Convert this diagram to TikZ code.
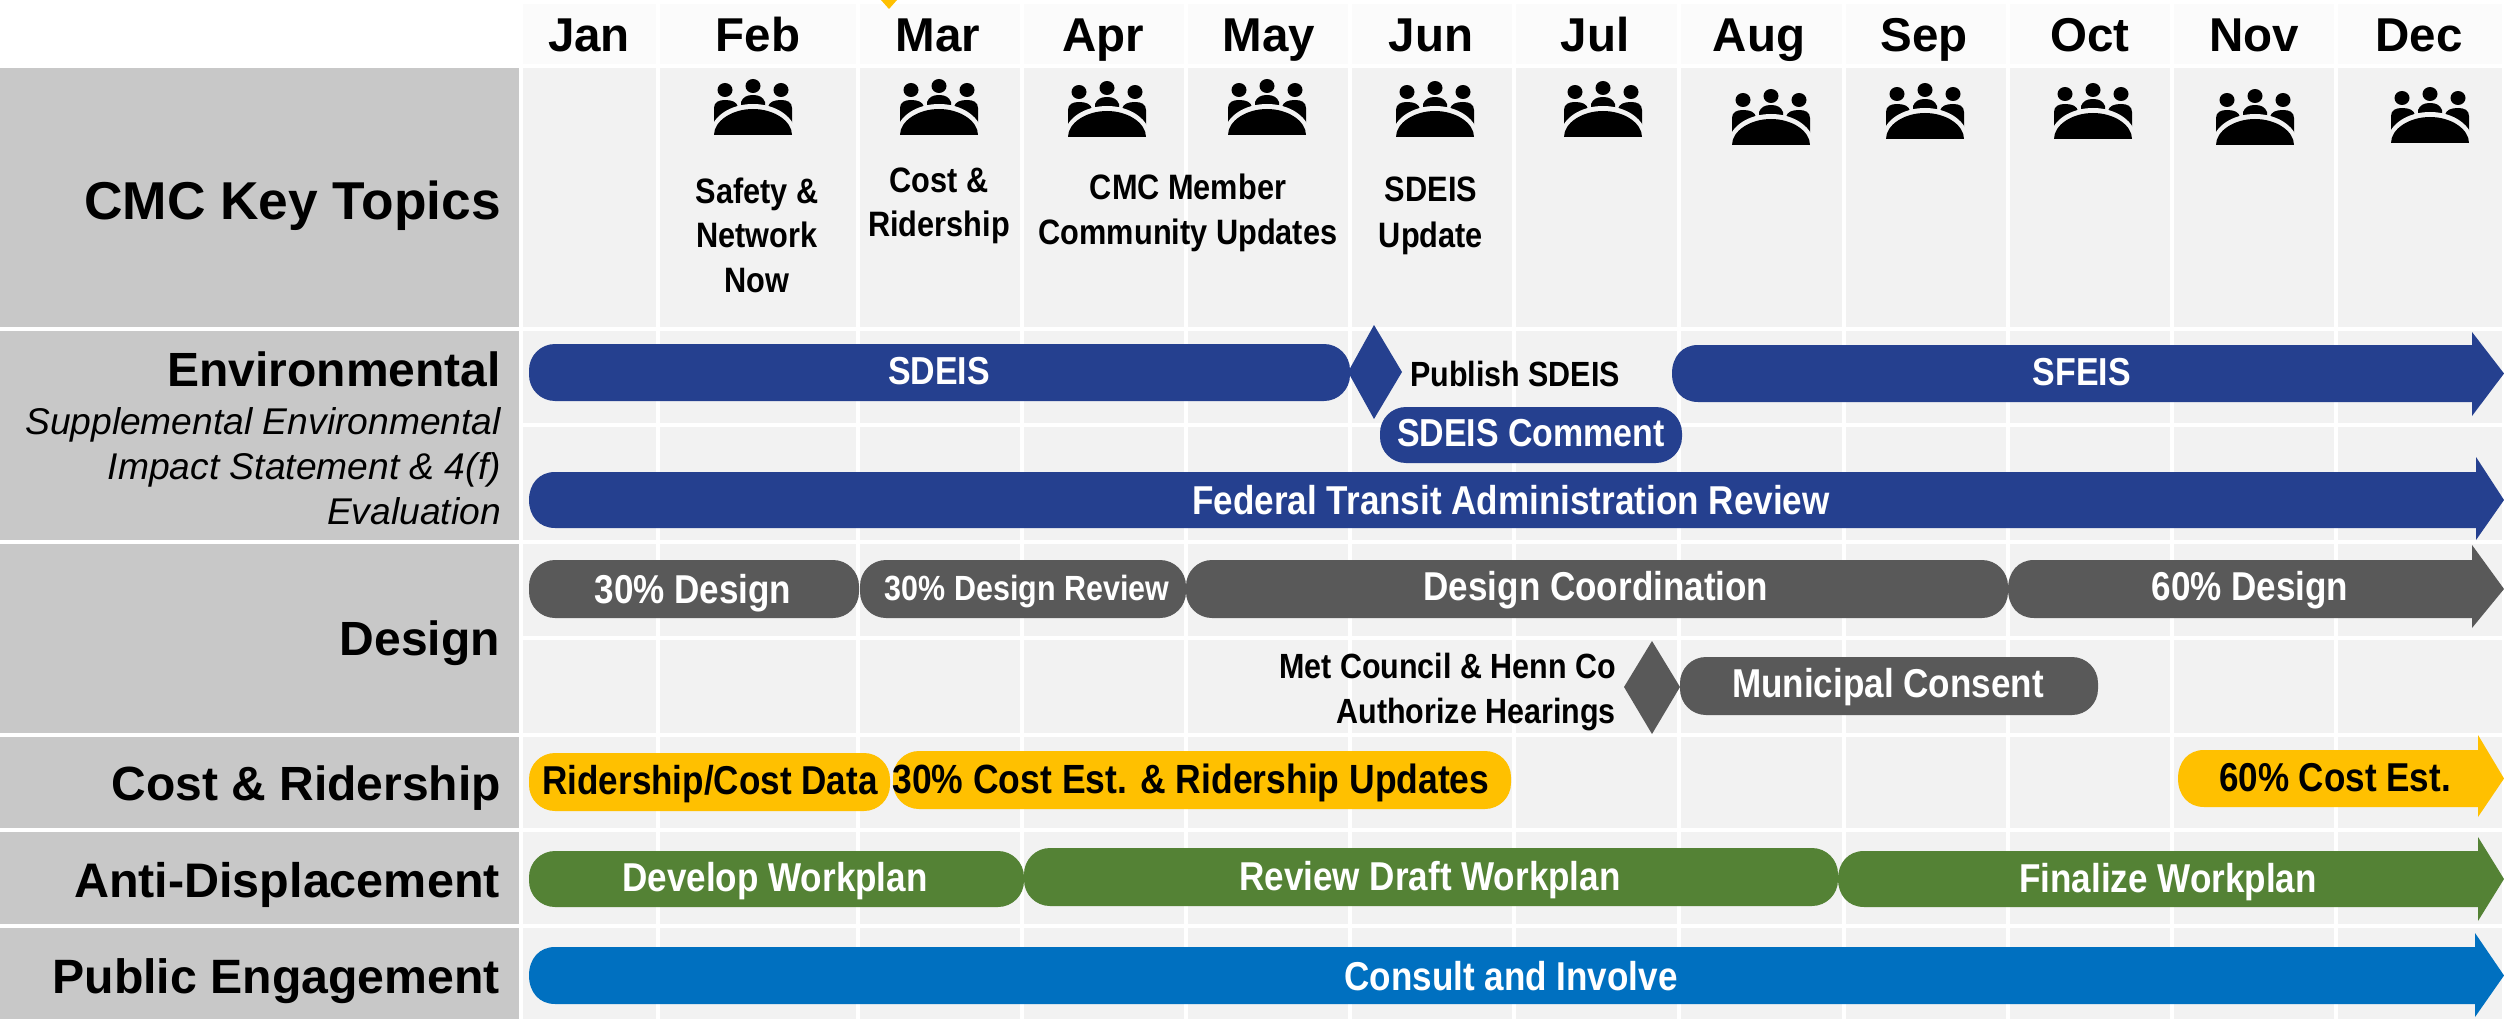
\documentclass[tikz,border=0pt]{standalone}
\usepackage{fontspec}
\setmainfont{Liberation Sans}
\newfontfamily\narf[FakeStretch=0.87]{Liberation Sans}
\definecolor{navy}{HTML}{25408F}
\definecolor{dgray}{HTML}{595959}
\definecolor{gold}{HTML}{FFC000}
\definecolor{leaf}{HTML}{548235}
\definecolor{sky}{HTML}{0070C0}
\definecolor{side}{HTML}{C8C8C8}
\definecolor{cell}{HTML}{F2F2F2}
\definecolor{headbg}{HTML}{FBFBFB}
\tikzset{
  month/.style={inner sep=0,anchor=base,font=\bfseries\fontsize{47.5}{50}\selectfont},
  rowhead/.style={inner sep=0,anchor=east,font=\bfseries\fontsize{48}{50}\selectfont},
  rowsub/.style={inner sep=0,anchor=east,font=\itshape\fontsize{37.2}{45}\selectfont},
  topic/.style={inner sep=0,align=center,font=\narf\bfseries\fontsize{35.3}{44.5}\selectfont},
  barw/.style={inner sep=0,text=white,font=\narf\bfseries\fontsize{40.3}{44}\selectfont},
  envw/.style={inner sep=0,text=white,font=\narf\bfseries\fontsize{39}{44}\selectfont},
  barb/.style={inner sep=0,text=black,font=\narf\bfseries\fontsize{40.3}{44}\selectfont},
  pill/.style={rounded corners=26pt},
  gridln/.style={white,line width=4pt},
  meeting/.pic={
    \fill (-28,-45) ellipse [x radius=7.5pt,y radius=7pt];
    \fill (0,-49) ellipse [x radius=7.5pt,y radius=7pt];
    \fill (28,-45) ellipse [x radius=7.5pt,y radius=7pt];
    \fill (-39,-12) -- (-39,-27) .. controls (-39,-33) and (-34,-35) .. (-28,-35) .. controls (-21,-35) and (-16,-33) .. (-15,-28) -- (-15,-10) -- cycle;
    \fill (39,-12) -- (39,-27) .. controls (39,-33) and (34,-35) .. (28,-35) .. controls (21,-35) and (16,-33) .. (15,-28) -- (15,-10) -- cycle;
    \fill (-12,-20) -- (-12,-33) .. controls (-10,-38) and (-6,-40) .. (0,-40) .. controls (6,-40) and (10,-38) .. (12,-33) -- (12,-20) -- cycle;
    \fill[cell] (-43,0) .. controls (-43,-17) and (-24,-31) .. (0,-31) .. controls (24,-31) and (43,-17) .. (43,0) -- cycle;
    \fill (-39,0) .. controls (-39,-14) and (-21,-26) .. (0,-26) .. controls (21,-26) and (39,-14) .. (39,0) -- cycle;
  }
}
\newcommand{\pillbar}[5]{\fill[#5,pill] (#1,#2) rectangle (#3,#4);}
\newcommand{\arrowbar}[8]{%
  \fill[#8] (#1+26,#2) -- (#5,#2) -- (#5,#6) -- (2504,{(#2+#4)/2}) -- (#5,#7) -- (#5,#4) -- (#1+26,#4)
    .. controls (#1+10,#4) and (#1,{#4-12}) .. (#1,{(#2+#4)/2})
    .. controls (#1,{#2+12}) and (#1+10,#2) .. (#1+26,#2) -- cycle;}
\begin{document}
\begin{tikzpicture}[x=1pt,y=-1pt]
\useasboundingbox (0,0) rectangle (2504,1019);
\fill[white] (0,0) rectangle (2504,1019);
% panels
\fill[headbg] (521,4) rectangle (2502,66);
\fill[cell] (521,68) rectangle (2502,1019);
\fill[side] (0,68) rectangle (519,1019);
% column lines
\foreach \cx in {521,658,858,1022,1186,1350,1514,1679,1844,2008,2172,2336}
  \draw[gridln] (\cx,4) -- (\cx,1019);
% row lines
\foreach \ry in {329,542,735,830,926}
  \draw[gridln] (0,\ry) -- (2504,\ry);
\foreach \ry in {425,638}
  \draw[gridln] (521,\ry) -- (2504,\ry);
\draw[gridln] (521,66) -- (2504,66);
% small marker at top edge
\fill[gold] (881,0) -- (897,0) -- (889,9) -- cycle;
% months
\node[month] (jan) at (589,52) {Jan};
\node[month] (feb) at (758,52) {Feb};
\node[month] (mar) at (938,52) {Mar};
\node[month] (apr) at (1103,52) {Apr};
\node[month] (may) at (1269,52) {May};
\node[month] (jun) at (1431,52) {Jun};
\node[month] (jul) at (1595,52) {Jul};
\node[month] (aug) at (1759,52) {Aug};
\node[month] (sep) at (1924,52) {Sep};
\node[month] (oct) at (2090,52) {Oct};
\node[month] (nov) at (2254,52) {Nov};
\node[month] (dec) at (2419,52) {Dec};
% icons
\foreach \ix/\iy in {753/135,939/135,1107/137,1267/135,1435/137,1603/137,1771/145,1925/139,2093/139,2255/145,2430/143}
  \pic at (\ix,\iy) {meeting};
% topics
\node[topic] (t1) at (757,235) {Safety \&\\Network\\Now};
\node[topic] (t2) at (939,206) {Cost \&\\Ridership};
\node[topic] (t3) at (1188,213) {CMC Member\\Community Updates};
\node[topic,font=\narf\bfseries\fontsize{35.3}{46}\selectfont] (t4) at (1431,216) {SDEIS\\Update};
% row headings
\node[rowhead,font=\bfseries\fontsize{53.3}{55}\selectfont] (h1) at (501,206) {CMC Key Topics};
\node[rowhead] (h2) at (501,369) {Environmental};
\node[rowsub,align=right] (h2s) at (501,466) {Supplemental Environmental\\Impact Statement \& 4(f)\\Evaluation};
\node[rowhead] (h3) at (500,643) {Design};
\node[rowhead] (h4) at (501,788) {Cost \& Ridership};
\node[rowhead,font=\bfseries\fontsize{48.5}{52}\selectfont] (h5) at (500,885) {Anti-Displacement};
\node[rowhead,font=\bfseries\fontsize{48.2}{52}\selectfont] (h6) at (500,981) {Public Engagement};
% environmental
\pillbar{529}{344}{1350}{401}{navy}
\fill[navy] (1348,372) -- (1374,325) -- (1402,372) -- (1374,419) -- cycle;
\arrowbar{1672}{345}{2472}{402}{2472}{332}{416}{navy}
\pillbar{1380}{407}{1682}{463}{navy}
\arrowbar{529}{472}{2476}{528}{2476}{457}{540}{navy}
\node[envw] (b1) at (939,371) {SDEIS};
\node[barb,font=\narf\bfseries\fontsize{35}{40}\selectfont] (b2) at (1515,374) {Publish SDEIS};
\node[envw] (b3) at (2082,372) {SFEIS};
\node[envw] (b4) at (1531,433) {SDEIS Comment};
\node[barw] (b5) at (1511,500) {Federal Transit Administration Review};
% design
\pillbar{529}{560}{859}{618}{dgray}
\pillbar{860}{560}{1186}{618}{dgray}
\pillbar{1186}{560}{2008}{618}{dgray}
\arrowbar{2008}{560}{2472}{618}{2472}{545}{628}{dgray}
\node[barw] (d1) at (693,593) {30\% Design};
\node[barw,font=\narf\bfseries\fontsize{35}{40}\selectfont] (d2) at (1027,592) {30\% Design Review};
\node[barw] (d3) at (1596,590) {Design Coordination};
\node[barw] (d4) at (2250,590) {60\% Design};
\node[barb,align=right,anchor=east,font=\narf\bfseries\fontsize{35}{45}\selectfont] (d5) at (1616,692) {Met Council \& Henn Co\\Authorize Hearings};
\fill[dgray] (1624,687) -- (1652,641) -- (1680,687) -- (1652,734) -- cycle;
\pillbar{1680}{657}{2098}{715}{dgray}
\node[barw] (d6) at (1888,687) {Municipal Consent};
% cost
\pillbar{529}{753}{890}{811}{gold}
\pillbar{893}{751}{1511}{809}{gold}
\arrowbar{2178}{750}{2478}{807}{2478}{735}{817}{gold}
\node[barb] (c1) at (710,784) {Ridership/Cost Data};
\node[barb,font=\narf\bfseries\fontsize{40.8}{44}\selectfont] (c2) at (1191,783) {30\% Cost Est. \& Ridership Updates};
\node[barb] (c3) at (2335,778) {60\% Cost Est.};
% anti-displacement
\pillbar{529}{851}{1024}{907}{leaf}
\pillbar{1024}{848}{1838}{906}{leaf}
\arrowbar{1838}{851}{2478}{907}{2478}{837}{921}{leaf}
\node[barw] (a1) at (775,881) {Develop Workplan};
\node[barw] (a2) at (1430,880) {Review Draft Workplan};
\node[barw] (a3) at (2168,882) {Finalize Workplan};
% public engagement
\arrowbar{529}{947}{2475}{1004}{2475}{933}{1017}{sky}
\node[barw] (p1) at (1511,976) {Consult and Involve};
\end{tikzpicture}
\end{document}
